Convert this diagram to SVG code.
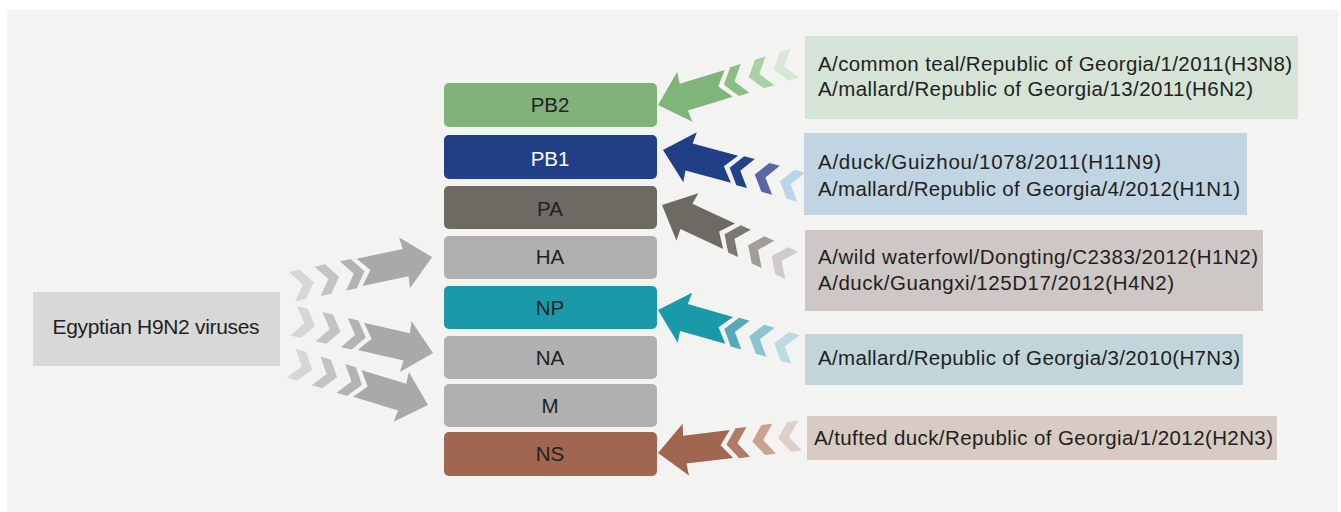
<svg xmlns="http://www.w3.org/2000/svg" xmlns:xlink="http://www.w3.org/1999/xlink" width="1341" height="512" viewBox="0 0 1341 512">
<style>
.lbl{font-family:"Liberation Sans",Arial,sans-serif;font-size:21px;fill:#231f20}
.seg{font-family:"Liberation Sans",Arial,sans-serif;font-size:20.5px;fill:#222;text-anchor:middle}
.strain{font-family:"Liberation Sans",Arial,sans-serif;font-size:20.5px;fill:#231f20}
</style>
<defs>
<polygon id="big" points="0,0 -28,-26 -27,-14 -74,-14 -63,0 -74,14 -27,14 -28,26"/>
<polygon id="chev" points="0,0 -11,-15 -22,-15 -11,0 -22,15 -11,15"/>
</defs>
<rect x="0" y="0" width="1341" height="512" fill="#ffffff"/>
<rect x="7" y="10" width="1331" height="502" fill="#f3f3f2"/>

<g id="connectors">
  <!-- left arrows -->
  <g transform="translate(432,257) rotate(-12)">
    <use href="#big" fill="#a9a9a9"/>
    <use href="#chev" x="-69" fill="#b3b3b3"/>
    <use href="#chev" x="-95" fill="#c3c3c3"/>
    <use href="#chev" x="-121" fill="#d6d6d6"/>
  </g>
  <g transform="translate(433,353) rotate(13)">
    <use href="#big" fill="#a9a9a9"/>
    <use href="#chev" x="-69" fill="#b3b3b3"/>
    <use href="#chev" x="-95" fill="#c3c3c3"/>
    <use href="#chev" x="-121" fill="#d6d6d6"/>
  </g>
  <g transform="translate(428,405) rotate(17)">
    <use href="#big" fill="#a9a9a9"/>
    <use href="#chev" x="-69" fill="#b3b3b3"/>
    <use href="#chev" x="-95" fill="#c3c3c3"/>
    <use href="#chev" x="-121" fill="#d6d6d6"/>
  </g>
  <!-- right arrows -->
  <g transform="translate(658,105) rotate(163)">
    <use href="#big" fill="#7fb47b"/>
    <use href="#chev" x="-69" fill="#8cbd87"/>
    <use href="#chev" x="-95" fill="#a9cfa5"/>
    <use href="#chev" x="-121" fill="#d9e8d6"/>
  </g>
  <g transform="translate(663,150) rotate(195)">
    <use href="#big" fill="#213f86"/>
    <use href="#chev" x="-69" fill="#22428a"/>
    <use href="#chev" x="-95" fill="#5b66a8"/>
    <use href="#chev" x="-121" fill="#bcd5e6"/>
  </g>
  <g transform="translate(662,205) rotate(205)">
    <use href="#big" fill="#6e6963"/>
    <use href="#chev" x="-69" fill="#7d7771"/>
    <use href="#chev" x="-95" fill="#a29d99"/>
    <use href="#chev" x="-121" fill="#cfcbc9"/>
  </g>
  <g transform="translate(658,310) rotate(196)">
    <use href="#big" fill="#1a9aa8"/>
    <use href="#chev" x="-69" fill="#55a9b8"/>
    <use href="#chev" x="-95" fill="#8fc3cf"/>
    <use href="#chev" x="-121" fill="#bcdadf"/>
  </g>
  <g transform="translate(658,453) rotate(173)">
    <use href="#big" fill="#a06650"/>
    <use href="#chev" x="-69" fill="#b07a67"/>
    <use href="#chev" x="-95" fill="#c9a293"/>
    <use href="#chev" x="-121" fill="#dcd0c8"/>
  </g>
</g>

<g id="egyptian">
  <rect x="33" y="292" width="247" height="74" fill="#d8d8d8"/>
  <text class="lbl" x="156" y="334" text-anchor="middle" textLength="207">Egyptian H9N2 viruses</text>
</g>

<g id="PB2"><rect x="444" y="83" width="213" height="44" rx="5" fill="#80b27a"/><text class="seg" x="550" y="112">PB2</text></g>
<g id="PB1"><rect x="444" y="135" width="213" height="44" rx="5" fill="#213f86"/><text class="seg" x="550" y="166" style="fill:#ffffff">PB1</text></g>
<g id="PA"><rect x="444" y="186" width="213" height="43" rx="5" fill="#6e6963"/><text class="seg" x="550" y="216">PA</text></g>
<g id="HA"><rect x="444" y="236" width="213" height="43" rx="5" fill="#b0b0b0"/><text class="seg" x="550" y="264">HA</text></g>
<g id="NP"><rect x="444" y="286" width="213" height="43" rx="5" fill="#1a9aa8"/><text class="seg" x="550" y="315">NP</text></g>
<g id="NA"><rect x="444" y="336" width="213" height="43" rx="5" fill="#b0b0b0"/><text class="seg" x="550" y="365">NA</text></g>
<g id="M"><rect x="444" y="384" width="213" height="43" rx="5" fill="#b0b0b0"/><text class="seg" x="550" y="413">M</text></g>
<g id="NS"><rect x="444" y="432" width="213" height="44" rx="5" fill="#a06650"/><text class="seg" x="550" y="461">NS</text></g>

<g id="src-PB2">
  <rect x="805" y="36" width="493" height="83" fill="#d5e4d6"/>
  <text class="strain" x="818" y="71" textLength="474">A/common teal/Republic of Georgia/1/2011(H3N8)</text>
  <text class="strain" x="818" y="96" textLength="435">A/mallard/Republic of Georgia/13/2011(H6N2)</text>
</g>
<g id="src-PB1">
  <rect x="804" y="133" width="443" height="82" fill="#c0d4e2"/>
  <text class="strain" x="818" y="169" textLength="343">A/duck/Guizhou/1078/2011(H11N9)</text>
  <text class="strain" x="818" y="196" textLength="422">A/mallard/Republic of Georgia/4/2012(H1N1)</text>
</g>
<g id="src-PA">
  <rect x="805" y="230" width="458" height="81" fill="#cdc8c6"/>
  <text class="strain" x="818" y="264" textLength="440">A/wild waterfowl/Dongting/C2383/2012(H1N2)</text>
  <text class="strain" x="818" y="290" textLength="356">A/duck/Guangxi/125D17/2012(H4N2)</text>
</g>
<g id="src-NP">
  <rect x="805" y="334" width="438" height="51" fill="#c0d6da"/>
  <text class="strain" x="818" y="365" textLength="422">A/mallard/Republic of Georgia/3/2010(H7N3)</text>
</g>
<g id="src-NS">
  <rect x="807" y="416" width="470" height="44" fill="#d7cbc3"/>
  <text class="strain" x="814" y="445" textLength="459">A/tufted duck/Republic of Georgia/1/2012(H2N3)</text>
</g>
</svg>
